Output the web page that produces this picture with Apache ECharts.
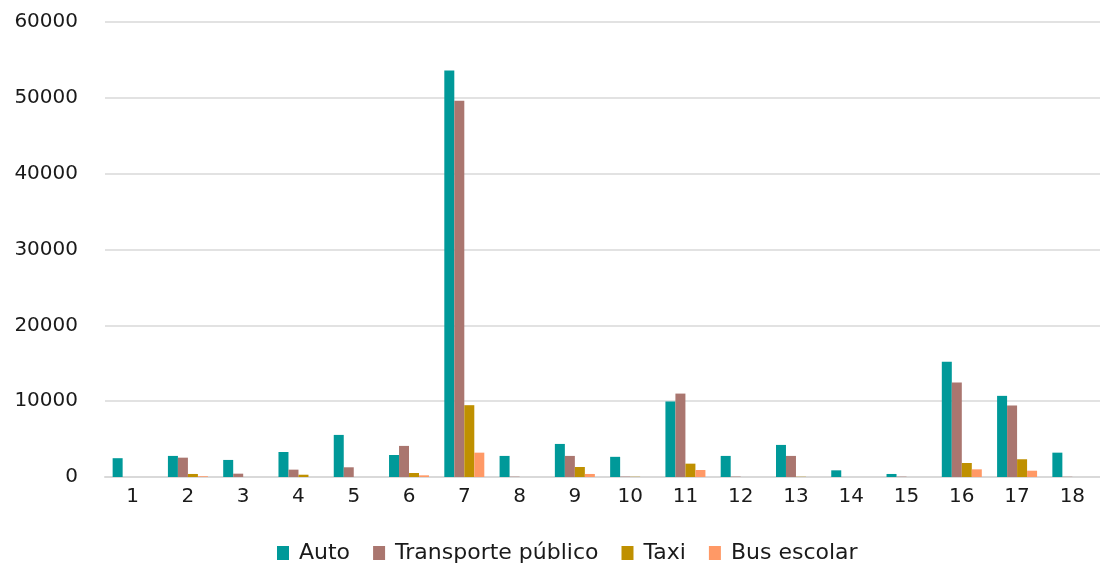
<!DOCTYPE html>
<html>
<head>
<meta charset="utf-8">
<script src="https://cdn.jsdelivr.net/npm/echarts@6/dist/echarts.min.js"></script>
<style>
  html, body { margin: 0; padding: 0; background: #ffffff; }
  #chart { width: 1100px; height: 564px; }
</style>
</head>
<body>
<div id="chart"></div>
<script>
// Zones 1..18 and trip counts per transport mode
const categories = ['1','2','3','4','5','6','7','8','9','10','11','12','13','14','15','16','17','18'];
const seriesNames = ['Auto', 'Transporte público', 'Taxi', 'Bus escolar'];
const auto       = [2480, 2780, 2250, 3300, 5550, 2900, 53600, 2780, 4360, 2660, 9960, 2780, 4230, 880, 400, 15200, 10700, 3210];
const transporte = [0, 2550, 440, 970, 1280, 4100, 49600, 40, 2780, 50, 11000, 50, 2780, 0, 40, 12470, 9430, 30];
const taxi       = [0, 400, 0, 300, 0, 530, 9470, 0, 1320, 30, 1760, 0, 30, 0, 0, 1850, 2340, 0];
const busEscolar = [0, 100, 0, 0, 0, 220, 3210, 0, 400, 0, 920, 0, 0, 0, 0, 1010, 830, 0];
const yTicks = { min: 0, max: 60000, interval: 10000 };

const colors = ['#009999', '#AA766F', '#BF9000', '#FF9966'];
const font = '"DejaVu Sans", sans-serif';

const chart = echarts.init(document.getElementById('chart'), null, { renderer: 'canvas' });
const values = [auto, transporte, taxi, busEscolar];

chart.setOption({
  animation: false,
  color: colors,
  grid: { left: 105, right: 0, top: 22, bottom: 87, containLabel: false },
  legend: {
    top: 537,
    left: 272,
    itemWidth: 12,
    itemHeight: 14,
    itemGap: 23,
    icon: 'rect',
    textStyle: { fontFamily: font, fontSize: 22, color: '#1a1a1a', padding: [0, 0, 0, 5] },
    data: seriesNames
  },
  xAxis: {
    type: 'category',
    data: categories,
    axisLine: { show: true, lineStyle: { color: '#D9D9D9', width: 2 } },
    axisTick: { show: false },
    axisLabel: { fontFamily: font, fontSize: 20, color: '#1a1a1a', margin: 10 }
  },
  yAxis: {
    type: 'value',
    min: yTicks.min,
    max: yTicks.max,
    interval: yTicks.interval,
    axisLine: { show: false },
    axisTick: { show: false },
    splitLine: { lineStyle: { color: '#D9D9D9', width: 1.5 } },
    axisLabel: {
      fontFamily: font, fontSize: 20, color: '#1a1a1a', margin: 27,
      formatter: v => String(v)
    }
  },
  series: seriesNames.map((name, i) => ({
    name: name,
    type: 'bar',
    data: values[i],
    barWidth: 10,
    barGap: '0%',
    itemStyle: { color: colors[i] }
  }))
});
</script>
</body>
</html>
